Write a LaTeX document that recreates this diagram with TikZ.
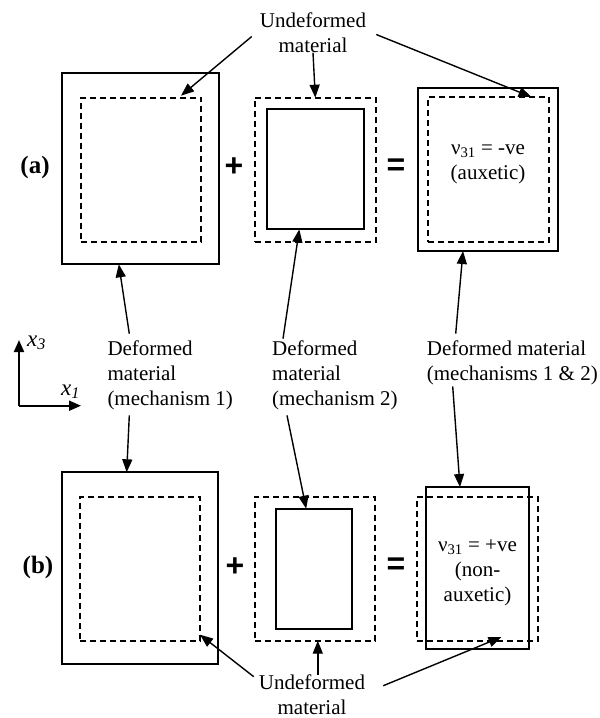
\documentclass[tikz,border=0pt]{standalone}
\usepackage{fontspec}
\setmainfont{Liberation Serif}
\setsansfont{Liberation Sans}
\usepackage{tikz}
\usetikzlibrary{arrows.meta, positioning, calc}

\begin{document}
\begin{tikzpicture}[
    x=1pt, y=-1pt,
    solid box/.style={draw=black, line width=1.8pt, inner sep=0pt, outer sep=0pt},
    dashed box/.style={draw=black, line width=1.9pt, dash pattern=on 6pt off 4pt, inner sep=0pt, outer sep=0pt},
    label text/.style={font=\fontsize{21}{25}\selectfont, inner sep=0pt},
    part label/.style={font=\fontsize{25}{30}\selectfont\bfseries},
    op sign/.style={font=\fontsize{32}{36}\selectfont\sffamily\bfseries},
    pointer/.style={draw=black, line width=1.4pt, -{Triangle[length=13pt, width=10pt]}},
    axis arrow/.style={draw=black, line width=2pt, -{Triangle[length=12pt, width=10pt]}}
]
\useasboundingbox (0,0) rectangle (600,718);

% --- Row (a) ---
\node[part label] (pa) at (35,167) {(a)};
\node[solid box, minimum width=157pt, minimum height=191pt] (A1) at (140.8,168.8) {};
\node[dashed box, minimum width=120.6pt, minimum height=144pt] (A1d) at (141,169.7) {};
\node[op sign] (plusa) at (234,167) {+};
\node[dashed box, minimum width=121.3pt, minimum height=144pt] (A2d) at (315.3,169.7) {};
\node[solid box, minimum width=97.3pt, minimum height=120.3pt] (A2) at (315.3,169.2) {};
\node[op sign] (eqa) at (396,167) {=};
\node[solid box, minimum width=140pt, minimum height=163pt] (A3) at (488,169.5) {};
\node[dashed box, minimum width=121pt, minimum height=145pt] (A3d) at (488.5,169.5) {};
\node[label text, align=center, anchor=north] (A3t) at (488,144) {ν\textsubscript{31} = -ve\\(auxetic)};

% --- Row (b) ---
\node[part label] (pb) at (38,567) {(b)};
\node[solid box, minimum width=156pt, minimum height=192pt] (B1) at (139.7,568.3) {};
\node[dashed box, minimum width=120pt, minimum height=144pt] (B1d) at (140,568.7) {};
\node[op sign] (plusb) at (235,567) {+};
\node[dashed box, minimum width=120.3pt, minimum height=144pt] (B2d) at (314.8,568.7) {};
\node[solid box, minimum width=76.3pt, minimum height=120.3pt] (B2) at (314.2,568.8) {};
\node[op sign] (eqb) at (396,566) {=};
\node[dashed box, minimum width=121pt, minimum height=144pt] (B3d) at (477.5,569) {};
\node[solid box, minimum width=103pt, minimum height=162pt] (B3) at (477.5,568) {};
\node[label text, align=center, anchor=north] (B3t) at (477.5,539.7) {ν\textsubscript{31} = +ve\\(non-\\auxetic)};

% --- Labels ---
\node[label text, align=center] (U1) at (313,32.5) {Undeformed\\material};
\node[label text, align=left, anchor=north west] (D1) at (107.3,340.7) {Deformed\\material\\(mechanism 1)};
\node[label text, align=left, anchor=north west] (D2) at (272,340.7) {Deformed\\material\\(mechanism 2)};
\node[label text, align=left, anchor=north west] (D3) at (426.7,340.7) {Deformed material\\(mechanisms 1 \& 2)};
\node[label text, align=center, anchor=north] (U2) at (312,674.7) {Undeformed\\material};

% --- Axes ---
\coordinate (O) at (19,405.7);
\coordinate (X3) at (19,340);
\coordinate (X1) at (81,405.7);
\draw[axis arrow] (O) -- (X3);
\draw[axis arrow] (O) -- (X1);
\node[anchor=base west, inner sep=0pt, font=\fontsize{23}{26}\selectfont] (L3) at (27,346) {\textit{x}\textsubscript{\textit{3}}};
\node[anchor=base west, inner sep=0pt, font=\fontsize{23}{26}\selectfont] (L1) at (61,395) {\textit{x}\textsubscript{\textit{1}}};

% --- Pointers: undeformed material ---
\draw[pointer] ([xshift=-8pt,yshift=-4pt]U1.west) -- ([xshift=40pt,yshift=2pt]A1d.north);
\draw[pointer] (U1.south) -- (A2d.north);
\draw[pointer] ([xshift=10pt,yshift=-2pt]U1.east) -- ([xshift=43pt]A3d.north);
\draw[pointer] ([xshift=-5pt,yshift=-2pt]U2.north west) -- ([yshift=6pt]B1d.south east);
\draw[pointer] ([xshift=3pt]B2d.south |- U2.north) -- ([xshift=3pt]B2d.south);
\draw[pointer] ([xshift=18pt,yshift=-11pt]U2.north east) -- ([xshift=24pt,yshift=4pt]B3d.south);

% --- Pointers: deformed material ---
\draw[pointer] ([xshift=22pt,yshift=7pt]D1.north west) -- ([xshift=-22pt]A1.south);
\draw[pointer] ([xshift=22pt,yshift=-5pt]D1.south west) -- ([xshift=-13pt]B1.north);
\draw[pointer] ([xshift=11pt,yshift=2pt]D2.north west) -- ([xshift=-16pt]A2.south);
\draw[pointer] ([xshift=15pt,yshift=-5pt]D2.south west) -- ([xshift=-8pt]B2.north);
\draw[pointer] ([xshift=29pt,yshift=7pt]D3.north west) -- ([xshift=-25pt]A3.south);
\draw[pointer] ([xshift=26pt,yshift=-1pt]D3.south west) -- ([xshift=-17.5pt]B3.north);

\end{tikzpicture}
\end{document}
